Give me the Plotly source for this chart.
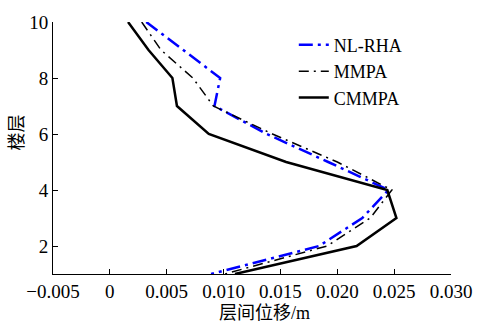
import plotly.graph_objects as go

floors = [10, 9, 8, 7, 6, 5, 4, 3, 2, 1]
nl_rha = [0.0032, 0.0065, 0.0097, 0.0092, 0.0138, 0.0192, 0.0245, 0.0222, 0.0184, 0.0089]
mmpa = [0.0028, 0.0045, 0.0073, 0.0091, 0.0143, 0.0200, 0.0248, 0.0229, 0.0191, 0.0101]
cmmpa = [0.0016, 0.0034, 0.0055, 0.0059, 0.0087, 0.0155, 0.0244, 0.0252, 0.0217, 0.0110]

x_ticks = [-0.005, 0, 0.005, 0.010, 0.015, 0.020, 0.025, 0.030]
x_ticktext = ["\u22120.005", "0", "0.005", "0.010", "0.015", "0.020", "0.025", "0.030"]
y_ticks = [2, 4, 6, 8, 10]

font_family = "Liberation Serif, Times New Roman, Noto Sans CJK SC, serif"

fig = go.Figure()
fig.add_trace(go.Scatter(x=nl_rha, y=floors, mode="lines", name="NL-RHA",
                         line=dict(color="#0000ff", width=2.5, dash="14px,5px,3px,5px")))
fig.add_trace(go.Scatter(x=mmpa, y=floors, mode="lines", name="MMPA",
                         line=dict(color="black", width=1.5, dash="10px,5px,2px,5px")))
fig.add_trace(go.Scatter(x=cmmpa, y=floors, mode="lines", name="CMMPA",
                         line=dict(color="black", width=2.5)))

fig.update_layout(
    width=484, height=325,
    margin=dict(l=53, r=22, t=14, b=51),
    paper_bgcolor="white", plot_bgcolor="white",
    font=dict(family=font_family, size=19, color="black"),
    legend=dict(x=0.605, y=0.982, xanchor="left", yanchor="top",
                bgcolor="rgba(0,0,0,0)", font=dict(size=18),
                tracegroupgap=0, itemwidth=30),
    showlegend=True,
    annotations=[
        dict(text="层间位移/m", xref="paper", yref="paper", x=(270 - 53) / 409,
             y=-(314 - 274) / 260, xanchor="center", yanchor="middle", showarrow=False,
             font=dict(family=font_family, size=18)),
        dict(text="楼层", xref="paper", yref="paper", x=-(53 - 16) / 409,
             y=(274 - 128) / 260, xanchor="center", yanchor="middle", showarrow=False,
             textangle=-90, font=dict(family=font_family, size=18)),
    ],
)
fig.update_xaxes(range=[-0.005, 0.030], tickvals=x_ticks, ticktext=x_ticktext,
                 ticks="inside", ticklen=5, tickcolor="black",
                 showline=True, linecolor="black", linewidth=1,
                 showgrid=False, zeroline=False)
fig.update_yaxes(range=[1, 10], tickvals=y_ticks,
                 ticks="inside", ticklen=5, tickcolor="black",
                 showline=True, linecolor="black", linewidth=1,
                 showgrid=False, zeroline=False)

fig.write_html("out.html")
